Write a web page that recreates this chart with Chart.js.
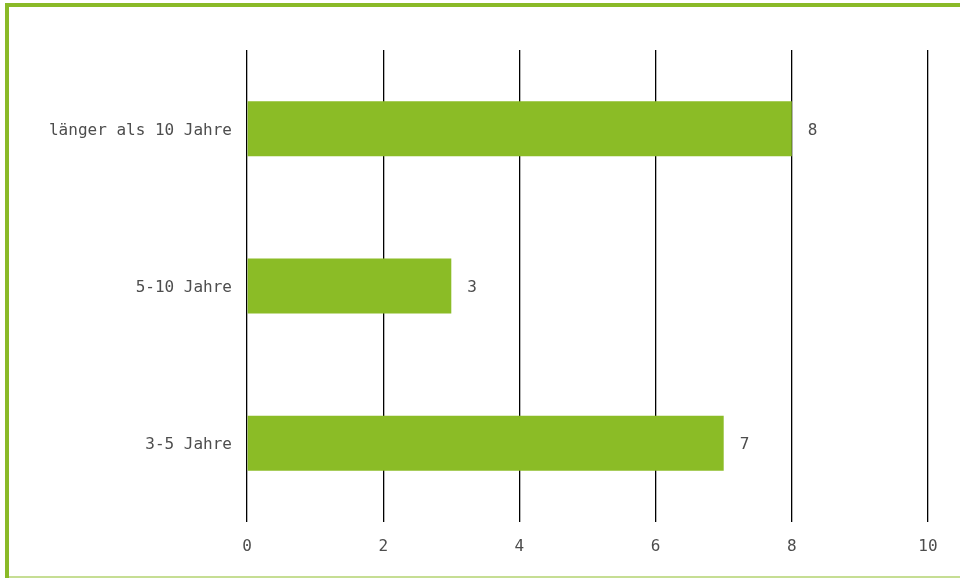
<!DOCTYPE html>
<html>
<head>
<meta charset="utf-8">
<script src="https://cdn.jsdelivr.net/npm/chart.js@4"></script>
<style>
html,body{margin:0;padding:0;background:#fff;}
#wrap{position:relative;width:960px;height:578px;overflow:hidden;}
canvas{position:absolute;left:0;top:0;}
.f{position:absolute;}
</style>
</head>
<body>
<div id="wrap">
<canvas id="c" width="960" height="578"></canvas>
<div class="f" style="left:5px;top:3px;width:955px;height:4px;background:#8aba27"></div>
<div class="f" style="left:5px;top:3px;width:4px;height:575px;background:#8aba27"></div>
<div class="f" style="left:9px;top:576px;width:951px;height:2px;background:#c6de94"></div>
</div>
<script>
const categories = ["länger als 10 Jahre", "5-10 Jahre", "3-5 Jahre"];
const values = [8, 3, 7];
const xTicks = [0, 2, 4, 6, 8, 10];

const FONT = "'DejaVu Sans Mono', monospace";
const TXT = '#4d4d4d';
const FS = 16;

const valueLabels = {
  id: 'valueLabels',
  afterDatasetsDraw(chart) {
    const ctx = chart.ctx;
    const meta = chart.getDatasetMeta(0);
    ctx.save();
    ctx.font = FS + 'px ' + FONT;
    ctx.fillStyle = TXT;
    ctx.textAlign = 'left';
    ctx.textBaseline = 'middle';
    meta.data.forEach((bar, i) => {
      ctx.fillText(String(values[i]), bar.x + 16, bar.y + 2);
    });
    ctx.restore();
  }
};

new Chart(document.getElementById('c'), {
  type: 'bar',
  data: {
    labels: categories,
    datasets: [{
      data: values,
      backgroundColor: '#8bbc26',
      borderWidth: 0,
      barPercentage: 0.35,
      categoryPercentage: 1
    }]
  },
  options: {
    indexAxis: 'y',
    responsive: false,
    animation: false,
    layout: { padding: { top: 50, right: 32, left: 0, bottom: 0 } },
    plugins: { legend: { display: false }, tooltip: { enabled: false } },
    scales: {
      x: {
        min: 0, max: 10,
        afterBuildTicks(scale) { scale.ticks = xTicks.map(v => ({ value: v })); },
        afterFit(scale) { scale.height = 56; },
        grid: { color: '#000', lineWidth: 1.3, drawTicks: false },
        border: { display: false },
        ticks: { padding: 15, color: TXT, font: { family: FONT, size: FS } }
      },
      y: {
        afterFit(scale) { scale.width = 247; },
        grid: { display: false, drawTicks: false },
        border: { display: false },
        ticks: { padding: 15, labelOffset: 2, color: TXT, font: { family: FONT, size: FS } }
      }
    }
  },
  plugins: [valueLabels]
});
</script>
</body>
</html>
